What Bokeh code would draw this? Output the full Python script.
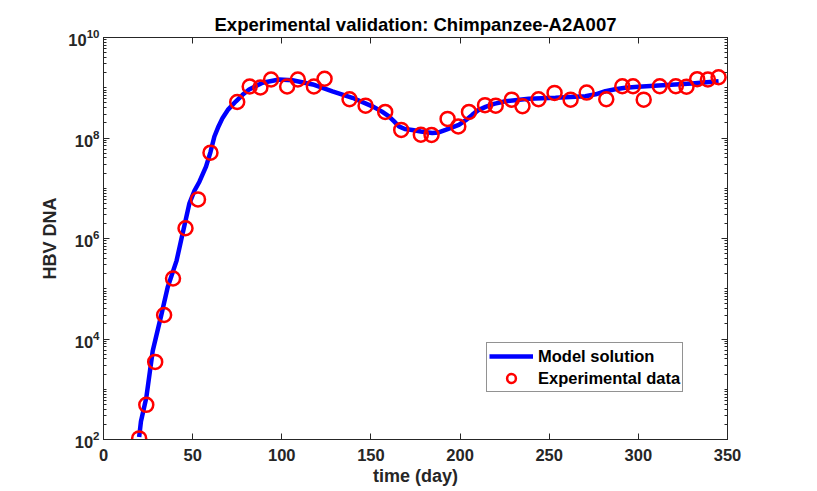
import numpy as np
from bokeh.plotting import figure
from bokeh.models import (LogAxis, LinearAxis, FixedTicker, Legend, LegendItem,
                          Range1d)
from bokeh.embed import file_html
from bokeh.resources import INLINE

# ---- data ----
data_day = [20, 24, 29, 34, 39, 46, 53, 60, 75, 82, 88, 94, 103, 109, 118, 124,
            138, 147, 158, 167, 178, 184, 193, 199, 205, 214, 220, 229, 235, 244,
            253, 262, 271, 282, 291, 297, 303, 312, 321, 327, 333, 339, 345]
data_dna = [1.05e2, 4.9e2, 3.5e3, 3.0e4, 1.6e5, 1.6e6, 6.0e6, 5.1e7, 5.2e8, 1.06e9,
            1.01e9, 1.46e9, 1.06e9, 1.46e9, 1.06e9, 1.51e9, 5.9e8, 4.4e8, 3.3e8,
            1.45e8, 1.16e8, 1.15e8, 2.4e8, 1.7e8, 3.3e8, 4.5e8, 4.4e8, 5.8e8, 4.3e8,
            5.9e8, 7.9e8, 5.8e8, 8.0e8, 5.9e8, 1.07e9, 1.07e9, 5.8e8, 1.07e9, 1.07e9,
            1.05e9, 1.48e9, 1.46e9, 1.62e9]

model_day = [20, 21, 24, 27.6, 32.3, 36, 41, 43.5, 48.2, 51, 53.8, 57.5, 60, 62.2,
             64.5, 66.8, 70, 74.3, 78, 81.7, 89.2, 98.5, 106, 117.4, 128.4, 139.6,
             150.8, 156, 160.1, 163, 165.7, 169, 173.2, 178, 184.4, 188, 191.9,
             199.3, 203, 206.8, 210, 214.3, 219, 225.5, 238.5, 253.5, 270.3, 276,
             281.5, 287, 292.7, 300, 311.3, 330, 345]
model_log10 = [2.05, 2.36, 2.83, 3.76, 4.46, 5.03, 5.56, 5.96, 6.70, 6.95, 7.13, 7.43,
               7.72, 8.03, 8.23, 8.40, 8.57, 8.73, 8.86, 8.965, 9.10, 9.165, 9.15,
               9.065, 8.93, 8.80, 8.63, 8.53, 8.43, 8.33, 8.23, 8.18, 8.16, 8.13,
               8.10, 8.11, 8.16, 8.26, 8.35, 8.46, 8.55, 8.62, 8.68, 8.73, 8.78, 8.80,
               8.83, 8.87, 8.93, 8.97, 9.0, 9.02, 9.045, 9.085, 9.13]

x_ticks = [0, 50, 100, 150, 200, 250, 300, 350]
y_ticks = [1e2, 1e4, 1e6, 1e8, 1e10]

title_text = "Experimental validation: Chimpanzee-A2A007"
x_label = "time (day)"
y_label = "HBV DNA"
legend_labels = ["Model solution", "Experimental data"]

# ---- style ----
AX = "#262626"
FONT = "Liberation Sans"
TICK_FS = "16.5px"
LABEL_FS = "18px"

model_dna = [10 ** v for v in model_log10]
minor = []
for k in range(2, 10):
    for m in range(1, 10):
        minor.append(m * 10.0 ** k)
minor.append(1e10)

p = figure(width=801, height=490, y_axis_type="log",
           x_range=Range1d(0, 350), y_range=Range1d(1e2, 1e10),
           output_backend="svg", toolbar_location=None,
           min_border_left=103, min_border_right=74, min_border_top=37,
           min_border_bottom=51)
p.grid.visible = False
p.outline_line_color = AX
p.outline_line_width = 1
p.background_fill_color = "white"
p.border_fill_color = "white"

p.title.text = title_text
p.title.align = "center"
p.title.text_font = FONT
p.title.text_font_size = "18.5px"
p.title.text_font_style = "bold"
p.title.text_color = "black"
p.title.standoff = 5

def style_axis(ax, labels=True):
    ax.axis_line_color = AX
    ax.axis_line_width = 1
    ax.major_tick_line_color = AX
    ax.minor_tick_line_color = AX
    ax.major_tick_in = 6
    ax.major_tick_out = 0
    ax.minor_tick_in = 3
    ax.minor_tick_out = 0
    ax.major_label_text_font = FONT
    ax.major_label_text_font_style = "bold"
    ax.major_label_text_font_size = TICK_FS if labels else "1px"
    ax.major_label_text_color = AX
    if not labels:
        ax.major_label_text_alpha = 0
    ax.axis_label_text_font = FONT
    ax.axis_label_text_font_style = "bold"
    ax.axis_label_text_font_size = LABEL_FS
    ax.axis_label_text_color = AX

xt = FixedTicker(ticks=x_ticks, minor_ticks=[])
yt = FixedTicker(ticks=y_ticks, minor_ticks=minor)

xa = p.xaxis[0]
xa.ticker = xt
style_axis(xa)
xa.axis_label = x_label
xa.major_label_standoff = 9
xa.axis_label_standoff = 2

ya = p.yaxis[0]
ya.ticker = yt
style_axis(ya)
ya.axis_label = y_label
ya.major_label_standoff = 4
ya.axis_label_standoff = 5

top = LinearAxis(ticker=xt)
style_axis(top, labels=False)
top.major_label_standoff = 0
p.add_layout(top, "above")

right = LogAxis(ticker=yt)
style_axis(right, labels=False)
right.major_label_standoff = 0
p.add_layout(right, "right")

r_line = p.line(model_day, model_dna, line_color="#0000ff", line_width=4.5)
r_pts = p.scatter(data_day, data_dna, marker="circle", size=14,
                  fill_color=None, line_color="#ff0000", line_width=2.5)

leg = Legend(items=[LegendItem(label=legend_labels[0], renderers=[r_line]),
                    LegendItem(label=legend_labels[1], renderers=[r_pts])],
             location=(383, 47))
leg.label_text_font = FONT
leg.label_text_font_style = "bold"
leg.label_text_font_size = "16.5px"
leg.label_text_color = "black"
leg.border_line_color = AX
leg.border_line_width = 1
leg.glyph_width = 44
leg.glyph_height = 22
leg.label_height = 22
leg.spacing = 0
leg.padding = 2
leg.margin = 0
leg.label_standoff = 5
p.add_layout(leg, "center")

open("out.html", "w").write(file_html(p, INLINE))
